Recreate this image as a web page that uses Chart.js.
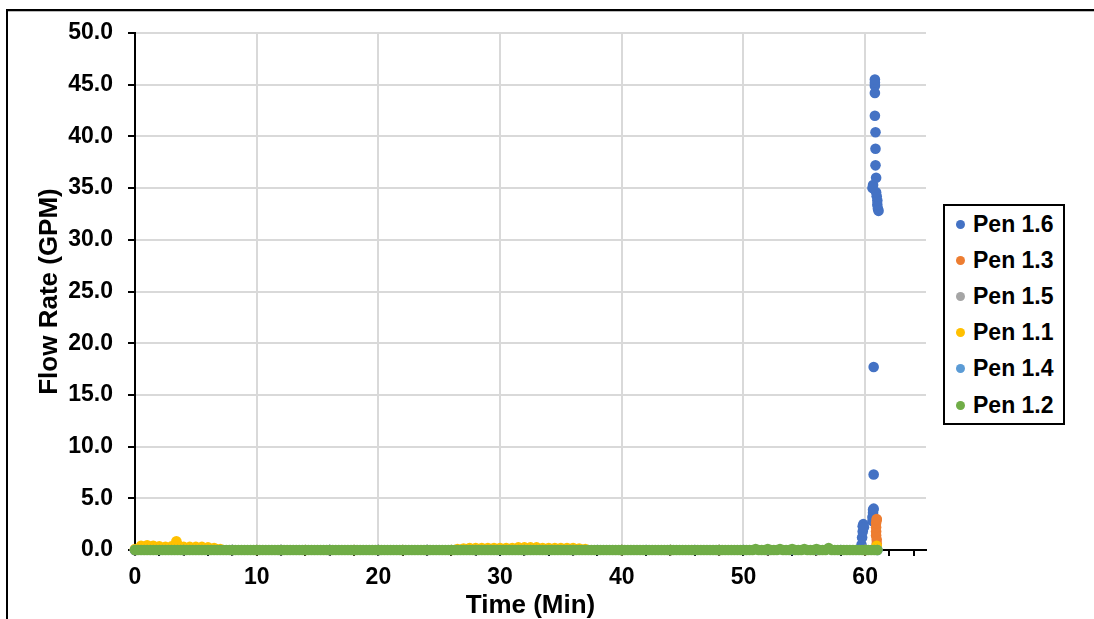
<!DOCTYPE html>
<html>
<head>
<meta charset="utf-8">
<script src="https://cdn.jsdelivr.net/npm/chart.js@4.4.1/dist/chart.umd.min.js"></script>
<style>
  body { margin: 0; background: #fff; }
  #wrap { position: relative; width: 1094px; height: 619px; overflow: hidden; background: #fff; }
  #frame { position: absolute; left: 6px; top: 9px; width: 1200px; height: 700px;
           border-top: 2px solid #000; border-left: 2px solid #000; }
  #frame::after { content: ""; position: absolute; left: 0; right: 0; top: 0; height: 1px; background: #bbb; }
  #myChart { position: absolute; left: 0; top: 0; }
  #legend { position: absolute; left: 943px; top: 204px; width: 122px; height: 221px;
            box-sizing: border-box; border: 2px solid #000; background: #fff; }
  .item { height: 36.2px; display: flex; align-items: center; padding-left: 11px;
          font: bold 23px "Liberation Sans", Arial, sans-serif; color: #000; }
  .dot { width: 9px; height: 9px; border-radius: 50%; margin-right: 8px; }
</style>
</head>
<body>
<div id="wrap">
  <div id="frame"></div>
  <canvas id="myChart" width="1094" height="619"></canvas>
  <div id="legend"></div>
</div>
<script>
// Series names and colours (legend order)
const penNames = ["Pen 1.6", "Pen 1.3", "Pen 1.5", "Pen 1.1", "Pen 1.4", "Pen 1.2"];
const penColors = ["#4472C4", "#ED7D31", "#A5A5A5", "#FFC000", "#5B9BD5", "#70AD47"];

// Pen 1.6
const pen16Time = [0, 2, 4, 6, 8, 10, 12, 14, 16, 18, 20, 22, 24, 26, 28, 30, 32, 34, 36, 38,
  40, 42, 44, 46, 48, 50, 52, 54, 56, 58, 59.7, 59.75, 59.8, 59.8, 59.85, 59.9,
  60.6, 60.6, 60.65, 60.65, 60.7, 60.7, 60.7, 60.6, 60.65,
  61.1, 61.05, 61.0, 61.0, 60.95, 60.9, 60.9, 60.85, 60.85, 60.85, 60.8, 60.8, 60.8, 60.8, 60.8];
const pen16Flow = [0, 0, 0, 0, 0, 0, 0, 0, 0, 0, 0, 0, 0, 0, 0, 0, 0, 0, 0, 0,
  0, 0, 0, 0, 0, 0, 0, 0, 0, 0, 0.5, 1.2, 1.8, 2.3, 2.5, 2.2,
  2.8, 3.2, 3.6, 3.9, 4.0, 7.3, 17.7, 35.0, 35.3,
  32.8, 33.0, 33.4, 33.8, 34.2, 34.6, 36.0, 37.2, 38.8, 40.4, 42.0, 44.2, 44.9, 45.2, 45.5];

// Pen 1.3
const pen13Time = [0, 4, 8, 12, 16, 20, 24, 28, 32, 36, 40, 44, 48, 52, 56, 60,
  60.95, 60.95, 60.95, 60.9, 60.9, 60.9, 60.9, 60.95, 60.95];
const pen13Flow = [0, 0, 0, 0, 0, 0, 0, 0, 0, 0, 0, 0, 0, 0, 0, 0,
  0.2, 0.6, 1.0, 1.4, 1.8, 2.2, 2.6, 2.9, 3.0];

// Pen 1.5
const pen15Time = [0, 4, 8, 12, 16, 20, 24, 28, 32, 36, 40, 44, 48, 52, 56, 60, 61];
const pen15Flow = [0, 0, 0, 0, 0, 0, 0, 0, 0, 0, 0, 0, 0, 0, 0, 0, 0];

// Pen 1.1
const pen11Time = [0, 0.5, 1, 1.5, 2, 2.5, 3, 3.4, 3.5, 4, 4.5, 5, 5.5, 6, 6.5, 7,
  10, 14, 18, 22, 26, 26.5, 27, 27.5, 28, 28.5, 29, 29.5, 30, 30.5, 31, 31.5, 32, 32.5,
  33, 33.5, 34, 34.5, 35, 35.5, 36, 36.5, 37, 40, 44, 48, 52, 56, 60, 60.95];
const pen11Flow = [0.1, 0.4, 0.45, 0.4, 0.35, 0.3, 0.35, 0.85, 0.5, 0.3, 0.3, 0.3, 0.3, 0.25, 0.2, 0.1,
  0, 0, 0, 0, 0, 0.1, 0.15, 0.2, 0.2, 0.2, 0.2, 0.2, 0.2, 0.2, 0.2, 0.25, 0.25, 0.25,
  0.25, 0.2, 0.2, 0.2, 0.2, 0.2, 0.2, 0.15, 0.1, 0, 0, 0, 0, 0, 0, 0.4];

// Pen 1.4
const pen14Time = [0, 4, 8, 12, 16, 20, 24, 28, 32, 36, 40, 44, 48, 52, 56, 60, 61];
const pen14Flow = [0, 0, 0, 0, 0, 0, 0, 0, 0, 0, 0, 0, 0, 0, 0, 0, 0];

// Pen 1.2 (dense logging, sits on top of the others)
const pen12Time = [
  0, 0.25, 0.5, 0.75, 1, 1.25, 1.5, 1.75,
  2, 2.25, 2.5, 2.75, 3, 3.25, 3.5, 3.75,
  4, 4.25, 4.5, 4.75, 5, 5.25, 5.5, 5.75,
  6, 6.25, 6.5, 6.75, 7, 7.25, 7.5, 7.75,
  8, 8.25, 8.5, 8.75, 9, 9.25, 9.5, 9.75,
  10, 10.25, 10.5, 10.75, 11, 11.25, 11.5, 11.75,
  12, 12.25, 12.5, 12.75, 13, 13.25, 13.5, 13.75,
  14, 14.25, 14.5, 14.75, 15, 15.25, 15.5, 15.75,
  16, 16.25, 16.5, 16.75, 17, 17.25, 17.5, 17.75,
  18, 18.25, 18.5, 18.75, 19, 19.25, 19.5, 19.75,
  20, 20.25, 20.5, 20.75, 21, 21.25, 21.5, 21.75,
  22, 22.25, 22.5, 22.75, 23, 23.25, 23.5, 23.75,
  24, 24.25, 24.5, 24.75, 25, 25.25, 25.5, 25.75,
  26, 26.25, 26.5, 26.75, 27, 27.25, 27.5, 27.75,
  28, 28.25, 28.5, 28.75, 29, 29.25, 29.5, 29.75,
  30, 30.25, 30.5, 30.75, 31, 31.25, 31.5, 31.75,
  32, 32.25, 32.5, 32.75, 33, 33.25, 33.5, 33.75,
  34, 34.25, 34.5, 34.75, 35, 35.25, 35.5, 35.75,
  36, 36.25, 36.5, 36.75, 37, 37.25, 37.5, 37.75,
  38, 38.25, 38.5, 38.75, 39, 39.25, 39.5, 39.75,
  40, 40.25, 40.5, 40.75, 41, 41.25, 41.5, 41.75,
  42, 42.25, 42.5, 42.75, 43, 43.25, 43.5, 43.75,
  44, 44.25, 44.5, 44.75, 45, 45.25, 45.5, 45.75,
  46, 46.25, 46.5, 46.75, 47, 47.25, 47.5, 47.75,
  48, 48.25, 48.5, 48.75, 49, 49.25, 49.5, 49.75,
  50, 50.25, 50.5, 50.75, 51, 51.25, 51.5, 51.75,
  52, 52.25, 52.5, 52.75, 53, 53.25, 53.5, 53.75,
  54, 54.25, 54.5, 54.75, 55, 55.25, 55.5, 55.75,
  56, 56.25, 56.5, 56.75, 57, 57.25, 57.5, 57.75,
  58, 58.25, 58.5, 58.75, 59, 59.25, 59.5, 59.75,
  60, 60.25, 60.5, 60.75, 61];
const pen12Flow = [
  0, 0, 0, 0, 0, 0, 0, 0,
  0, 0, 0, 0, 0, 0, 0, 0,
  0, 0, 0, 0, 0, 0, 0, 0,
  0, 0, 0, 0, 0, 0, 0, 0,
  0, 0, 0, 0, 0, 0, 0, 0,
  0, 0, 0, 0, 0, 0, 0, 0,
  0, 0, 0, 0, 0, 0, 0, 0,
  0, 0, 0, 0, 0, 0, 0, 0,
  0, 0, 0, 0, 0, 0, 0, 0,
  0, 0, 0, 0, 0, 0, 0, 0,
  0, 0, 0, 0, 0, 0, 0, 0,
  0, 0, 0, 0, 0, 0, 0, 0,
  0, 0, 0, 0, 0, 0, 0, 0,
  0, 0, 0, 0, 0, 0, 0, 0,
  0, 0, 0, 0, 0, 0, 0, 0,
  0, 0, 0, 0, 0, 0, 0, 0,
  0, 0, 0, 0, 0, 0, 0, 0,
  0, 0, 0, 0, 0, 0, 0, 0,
  0, 0, 0, 0, 0, 0, 0, 0,
  0, 0, 0, 0, 0, 0, 0, 0,
  0, 0, 0, 0, 0, 0, 0, 0,
  0, 0, 0, 0, 0, 0, 0, 0,
  0, 0, 0, 0, 0, 0, 0, 0,
  0, 0, 0, 0, 0, 0, 0, 0,
  0, 0, 0, 0, 0, 0, 0, 0,
  0, 0, 0, 0, 0.08, 0, 0, 0,
  0.08, 0, 0, 0, 0.08, 0, 0, 0,
  0.1, 0, 0, 0, 0.08, 0, 0, 0,
  0.1, 0, 0, 0, 0.2, 0, 0, 0,
  0, 0, 0, 0, 0, 0, 0, 0,
  0, 0, 0, 0, 0];

const penTimes = [pen16Time, pen13Time, pen15Time, pen11Time, pen14Time, pen12Time];
const penFlows = [pen16Flow, pen13Flow, pen15Flow, pen11Flow, pen14Flow, pen12Flow];

const fontFamily = '"Liberation Sans", Arial, sans-serif';

// Build the datasets (last series drawn on top, like the spreadsheet)
const datasets = penNames.map((name, i) => ({
  label: name,
  data: penTimes[i].map((t, j) => ({ x: t, y: penFlows[i][j] })),
  backgroundColor: penColors[i],
  borderColor: penColors[i],
  pointRadius: 5.3,
  pointBorderWidth: 0,
  order: penNames.length - i,
  clip: false,
}));

const ctx = document.getElementById("myChart").getContext("2d");
const myChart = new Chart(ctx, {
  type: "scatter",
  data: { datasets: datasets },
  options: {
    responsive: false,
    animation: false,
    layout: { padding: { left: 34, right: 168, top: 33, bottom: 0 } },
    plugins: {
      legend: { display: false },
      tooltip: { enabled: false },
    },
    scales: {
      x: {
        type: "linear",
        min: 0,
        max: 65,
        afterFit: (scale) => { scale.height = 69; },
        ticks: {
          stepSize: 2,
          includeBounds: false,
          autoSkip: false,
          maxRotation: 0,
          padding: 8,
          color: "#000",
          font: { family: fontFamily, size: 23, weight: "bold" },
          callback: (v) => (v % 10 === 0 ? String(v) : ""),
        },
        grid: {
          color: (c) => (c.tick && c.tick.value % 10 === 0 ? "#d9d9d9" : "rgba(0,0,0,0)"),
          lineWidth: 2,
          tickColor: "#000",
          tickLength: 6,
          tickWidth: 2,
        },
        border: { color: "#000", width: 2 },
        title: {
          display: true,
          text: "Time (Min)",
          color: "#000",
          padding: { top: 0, bottom: -2 },
          font: { family: fontFamily, size: 26, weight: "bold" },
        },
      },
      y: {
        min: 0,
        max: 50,
        afterFit: (scale) => { scale.width = 101; },
        ticks: {
          stepSize: 5,
          padding: 15,
          color: "#000",
          font: { family: fontFamily, size: 23, weight: "bold" },
          callback: (v) => v.toFixed(1),
        },
        grid: {
          color: "#d9d9d9",
          lineWidth: 2,
          tickColor: "#000",
          tickLength: 7,
          tickWidth: 2,
        },
        border: { color: "#000", width: 2 },
        title: {
          display: true,
          text: "Flow Rate (GPM)",
          color: "#000",
          padding: 0,
          font: { family: fontFamily, size: 26, weight: "bold" },
        },
      },
    },
  },
});

// Legend box built from the chart's datasets
const legendEl = document.getElementById("legend");
myChart.data.datasets.forEach((ds) => {
  const item = document.createElement("div");
  item.className = "item";
  const dot = document.createElement("span");
  dot.className = "dot";
  dot.style.background = ds.backgroundColor;
  item.appendChild(dot);
  item.appendChild(document.createTextNode(ds.label));
  legendEl.appendChild(item);
});
</script>
</body>
</html>
